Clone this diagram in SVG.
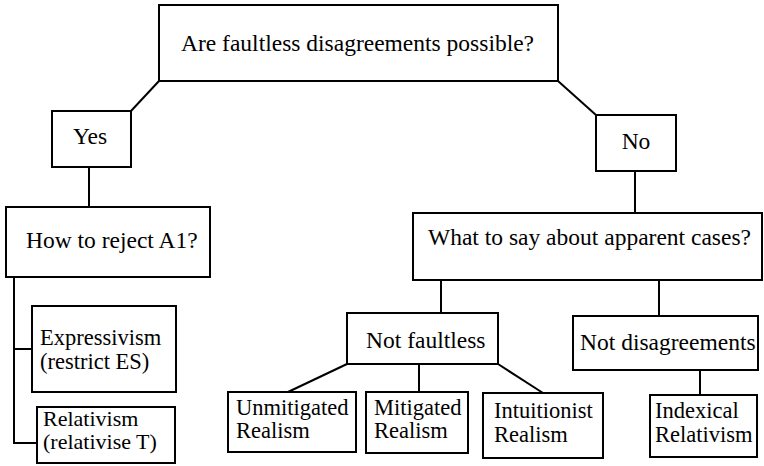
<svg xmlns="http://www.w3.org/2000/svg" width="764" height="466" viewBox="0 0 764 466">
<style>
rect{fill:#fff;stroke:#000;stroke-width:2}
.c line,.c polyline{stroke:#000;stroke-width:2;fill:none}
.t text{fill:#000}
.m{text-anchor:middle}
.s{font-size:22.5px}
.r{font-size:22px}
</style>
<rect x="0" y="0" width="764" height="466" style="fill:#fff;stroke:none"/>
<g class="c" id="connectors">
<line x1="159" y1="81" x2="131" y2="111"/>
<line x1="558" y1="81" x2="596" y2="115"/>
<line x1="89" y1="167" x2="89" y2="207"/>
<line x1="635" y1="171" x2="635" y2="213"/>
<polyline points="14,277 14,443 37,443"/>
<line x1="14" y1="349" x2="32" y2="349"/>
<line x1="441" y1="280" x2="441" y2="313"/>
<line x1="659" y1="280" x2="659" y2="316"/>
<line x1="347" y1="364" x2="288" y2="392"/>
<line x1="419" y1="364" x2="419" y2="392"/>
<line x1="498" y1="364" x2="543" y2="393"/>
<line x1="700" y1="370" x2="700" y2="395"/>
</g>
<g class="t" font-family="'Liberation Serif', 'DejaVu Serif', 'Times New Roman', Times, serif" font-size="23.5">
<g id="root"><rect x="159" y="5" width="399" height="76"/><text x="181" y="51">Are faultless disagreements possible?</text></g>
<g id="yes"><rect x="52" y="111" width="79" height="56"/><text class="m" x="90" y="144">Yes</text></g>
<g id="no"><rect x="596" y="115" width="80" height="56"/><text class="m" x="636" y="149">No</text></g>
<g id="how"><rect x="6" y="207" width="204" height="70"/><text x="26" y="248">How to reject A1?</text></g>
<g id="what"><rect x="413" y="213" width="349" height="67"/><text x="428" y="245">What to say about apparent cases?</text></g>
<g id="expressivism"><rect x="32" y="306" width="144" height="86"/><text class="s" x="40" y="345">Expressivism</text><text class="s" x="40" y="369">(restrict ES)</text></g>
<g id="relativism"><rect x="37" y="407" width="138" height="56"/><text class="r" x="43" y="426">Relativism</text><text class="r" x="43" y="449">(relativise T)</text></g>
<g id="notfaultless"><rect x="347" y="313" width="151" height="51"/><text x="366" y="348">Not faultless</text></g>
<g id="notdisagreements"><rect x="573" y="316" width="185" height="54"/><text x="580" y="350">Not disagreements</text></g>
<g id="unmitigated"><rect x="228" y="392" width="128" height="60"/><text class="s" x="236" y="415">Unmitigated</text><text class="s" x="236" y="438">Realism</text></g>
<g id="mitigated"><rect x="366" y="392" width="102" height="61"/><text class="s" x="374" y="415">Mitigated</text><text class="s" x="374" y="438">Realism</text></g>
<g id="intuitionist"><rect x="483" y="393" width="120" height="65"/><text class="s" x="494" y="418">Intuitionist</text><text class="s" x="494" y="442">Realism</text></g>
<g id="indexical"><rect x="650" y="395" width="107" height="62"/><text class="s" x="655" y="418">Indexical</text><text class="s" x="655" y="442">Relativism</text></g>
</g>
</svg>
